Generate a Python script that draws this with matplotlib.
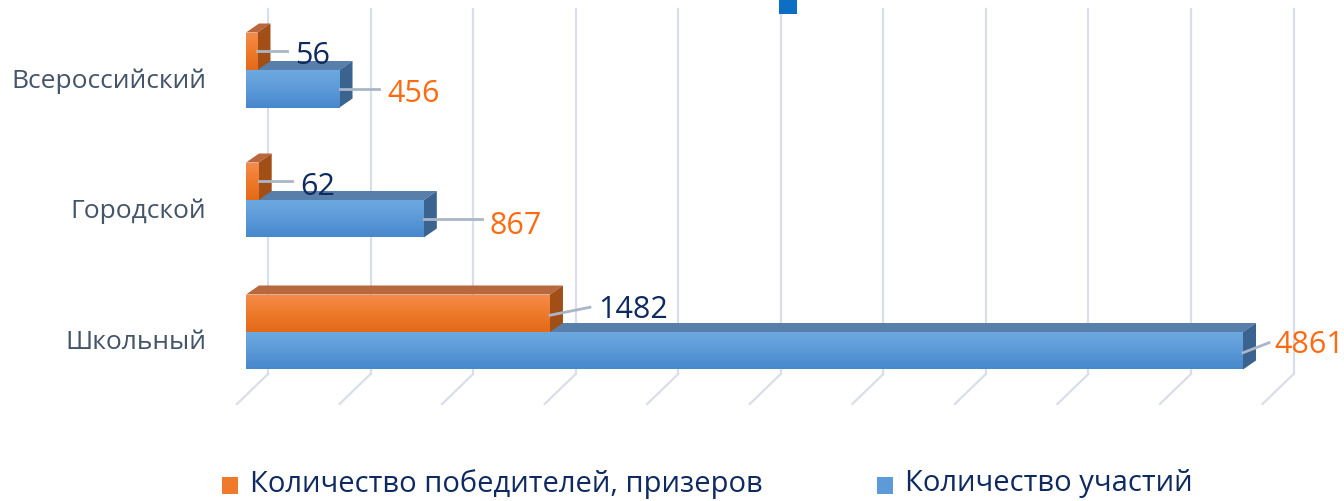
import numpy as np
import matplotlib.pyplot as plt
from matplotlib.patches import Polygon, Rectangle
from matplotlib.colors import LinearSegmentedColormap

categories = ['Школьный', 'Городской', 'Всероссийский']
winners = [1482, 62, 56]
participants = [4861, 867, 456]
series_names = ['Количество победителей, призеров', 'Количество участий']

ticks = np.arange(0, 5001, 500)

plt.rcParams['font.family'] = ['Open Sans', 'DejaVu Sans']

W, H = 1344, 502
fig = plt.figure(figsize=(W / 100, H / 100), dpi=100)
ax = fig.add_axes([0, 0, 1, 1])
ax.axis('off')

# pixel scale of the value axis
k = 997 / 4861
x0_px = 246
ax.set_xlim(-x0_px / k, (W - x0_px) / k)
ax.set_ylim(H, 0)

dx = 13 / k      # depth of bars
dy = -9
back_dx = 22 / k
floor_dx = -9 / k

# back wall grid + floor lines
grid_col = '#d9dee8'
for t in ticks:
    ax.plot([t + back_dx, t + back_dx], [10, 375], color=grid_col, lw=1.6, zorder=1)
    ax.plot([t + back_dx, t + floor_dx], [375, 405], color=grid_col, lw=1.6, zorder=1)

orange_cm = LinearSegmentedColormap.from_list('o', ['#f58c4c', '#ef7a2c', '#e36a18'])
blue_cm = LinearSegmentedColormap.from_list('b', ['#6ea9e0', '#5c9ad8', '#4788cc'])
grad = np.linspace(0, 1, 64).reshape(-1, 1)

bar_h = 37.5
centers = [333, 201, 71]


def bar3d(vals, ys, cmap, top_col, side_col, z):
    rects = ax.barh(ys, vals, height=bar_h, align='edge', color='none', zorder=z)
    for r in rects:
        x, y = r.get_x(), r.get_y()
        w, h = r.get_width(), r.get_height()
        top = Polygon([(x, y), (x + w, y), (x + w + dx, y + dy), (x + dx, y + dy)],
                      closed=True, fc=top_col, ec='none', zorder=z)
        side = Polygon([(x + w, y), (x + w + dx, y + dy), (x + w + dx, y + h + dy), (x + w, y + h)],
                       closed=True, fc=side_col, ec='none', zorder=z)
        ax.add_patch(top)
        ax.add_patch(side)
        im = ax.imshow(grad, extent=[x, x + w, y + h, y], aspect='auto', cmap=cmap, zorder=z)
        im.set_clip_path(r)
    return rects


blue_bars = bar3d(participants, centers, blue_cm, '#587fa9', '#3b638f', 3)
orange_bars = bar3d(winners, [c - bar_h for c in centers], orange_cm, '#b8683c', '#a24f17', 4)

# data labels with leader lines
lead_col = '#a9b6c8'
navy = '#0f2a60'
orng = '#ff6a10'
# leader: (length px, rise px at end, text gap px, text y shift px)
orange_lead = [(40, -8, 8, -7), (33, 0, 9, 2), (30, 0, 8, 1)]
blue_lead = [(26, -10, 5, -10), (58, 0, 8, 3), (39, 0, 9, 1)]


def labels(bars, vals, leads, col):
    for r, v, (ln, rise, gap, sh) in zip(bars, vals, leads):
        yc = r.get_y() + bar_h / 2
        ys = yc + (2 if rise else 0)
        ax.plot([v, v + ln / k], [ys, ys + rise], color=lead_col, lw=2, zorder=5)
        ax.text(v + (ln + gap) / k, yc + sh + 3, str(v), color=col, fontsize=22,
                va='center', ha='left', zorder=6)


labels(orange_bars, winners, orange_lead, navy)
labels(blue_bars, participants, blue_lead, orng)

# category labels
for c, name in zip(centers, categories):
    ax.text(-40 / k, c + 10, name, color='#44546a', fontsize=19, ha='right', va='center')

# stray legend marker at the top
fig.patches.append(Rectangle((779 / W, 1 - 15 / H), 18 / W, 15 / H, transform=fig.transFigure,
                             fc='#0d6fc4', ec='none'))

# legend
leg_cols = ['#ef7a2c', '#5c9ad8']
leg_x = [222, 877]
for name, c, lx in zip(series_names, leg_cols, leg_x):
    fig.patches.append(Rectangle((lx / W, 1 - 495 / H), 16 / W, 17 / H, transform=fig.transFigure,
                                 fc=c, ec='none'))
    fig.text((lx + 28) / W, 1 - 484 / H, name, color=navy, fontsize=21, ha='left', va='center')

fig.savefig('out.png', dpi=100)
